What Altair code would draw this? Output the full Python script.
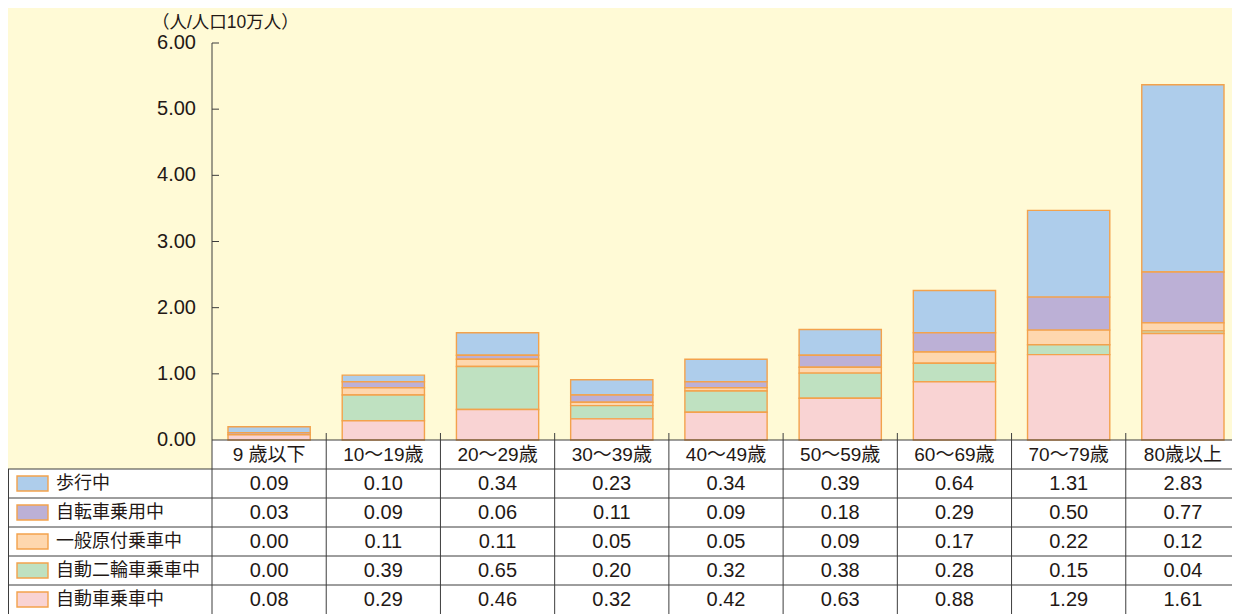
import altair as alt
import pandas as pd

# ---------------- data ----------------
categories = ["9 歳以下", "10～19歳", "20～29歳", "30～39歳", "40～49歳",
              "50～59歳", "60～69歳", "70～79歳", "80歳以上"]
series = ["歩行中", "自転車乗用中", "一般原付乗車中", "自動二輪車乗車中", "自動車乗車中"]
walking    = [0.09, 0.10, 0.34, 0.23, 0.34, 0.39, 0.64, 1.31, 2.83]
bicycle    = [0.03, 0.09, 0.06, 0.11, 0.09, 0.18, 0.29, 0.50, 0.77]
moped      = [0.00, 0.11, 0.11, 0.05, 0.05, 0.09, 0.17, 0.22, 0.12]
motorcycle = [0.00, 0.39, 0.65, 0.20, 0.32, 0.38, 0.28, 0.15, 0.04]
car        = [0.08, 0.29, 0.46, 0.32, 0.42, 0.63, 0.88, 1.29, 1.61]
y_ticks = [0, 1, 2, 3, 4, 5, 6]
y_title = "（人/人口10万人）"

values = [walking, bicycle, moped, motorcycle, car]
colors = ["#AECDEB", "#BCB0D6", "#FED7AE", "#BFE1C1", "#F9D3D3"]

# ---------------- layout constants ----------------
W, H = 1224, 606
PXY = 397 / 6            # pixels per value unit
ROW = 29 / PXY           # table row height (value units)
CAT = 1028 / 9           # pixels per category
X0 = -204 / CAT
X1 = X0 + W / CAT
Y0, Y1 = -6 * ROW, 432 / PXY
BAR_PAD = 0.14
FONT_NUM = "Liberation Sans, Arial, 'Noto Sans CJK JP'"
FONT_JP = "'Noto Sans CJK JP'"
INK = "#231815"
LINE = "#3d3d3d"
STROKE = "#F3A24C"

xs = alt.Scale(domain=[X0, X1], nice=False, zero=False)
ys = alt.Scale(domain=[Y0, Y1], nice=False, zero=False)

# ---------------- tables ----------------
bar_rows = []
for k, (s, vals) in enumerate(zip(series, values)):
    for i, v in enumerate(vals):
        bar_rows.append({"cat": i, "series": s, "value": v,
                         "ord": len(series) - 1 - k,
                         "xl": i + BAR_PAD, "xr": i + 1 - BAR_PAD})
bars_df = pd.DataFrame(bar_rows)

cells_df = pd.DataFrame([
    {"x": 0, "x2": X1, "y": 0, "y2": -ROW},
    {"x": X0, "x2": X1, "y": -ROW, "y2": -6 * ROW},
])

line_rows = [{"x": 0, "x2": X1, "y": 0, "y2": 0}]
for r in range(1, 6):
    line_rows.append({"x": X0, "x2": X1, "y": -r * ROW, "y2": -r * ROW})
line_rows.append({"x": X0 + 0.5 / CAT, "x2": X0 + 0.5 / CAT, "y": -ROW, "y2": -6 * ROW})
line_rows.append({"x": 0, "x2": 0, "y": 6, "y2": -6 * ROW})
for i in range(1, 9):
    line_rows.append({"x": i, "x2": i, "y": 7 / PXY, "y2": -6 * ROW})
for t in y_ticks[1:]:
    line_rows.append({"x": 0, "x2": 7 / CAT, "y": t, "y2": t})
lines_df = pd.DataFrame(line_rows)

ytick_df = pd.DataFrame({"v": y_ticks, "x": [0] * len(y_ticks)})
title_df = pd.DataFrame({"t": [y_title], "x": [0], "y": [6]})
header_df = pd.DataFrame({"label": categories,
                          "x": [i + 0.5 for i in range(len(categories))],
                          "y": [-0.5 * ROW] * len(categories)})
val_rows = []
for k, vals in enumerate(values):
    for i, v in enumerate(vals):
        val_rows.append({"v": v, "x": i + 0.5, "y": -(k + 1.5) * ROW})
vals_df = pd.DataFrame(val_rows)
leg_df = pd.DataFrame({
    "series": series,
    "sx": [X0 + 9 / CAT] * 5, "sx2": [X0 + 40 / CAT] * 5,
    "sy": [-(k + 1.5) * ROW + 7.5 / PXY for k in range(5)],
    "sy2": [-(k + 1.5) * ROW - 7.5 / PXY for k in range(5)],
    "tx": [X0 + 48 / CAT] * 5,
    "ty": [-(k + 1.5) * ROW for k in range(5)],
})

color_scale = alt.Scale(domain=series, range=colors)

# ---------------- layers ----------------
cells = alt.Chart(cells_df).mark_rect(fill="white", strokeWidth=0).encode(
    x=alt.X("x:Q", scale=xs, axis=None), x2="x2:Q",
    y=alt.Y("y:Q", scale=ys, axis=None), y2="y2:Q")

bars = alt.Chart(bars_df).transform_stack(
    stack="value", as_=["v0", "v1"], groupby=["cat"],
    sort=[alt.SortField("ord", order="ascending")]
).mark_rect(stroke=STROKE, strokeWidth=1.4).encode(
    x=alt.X("xl:Q", scale=xs, axis=None), x2="xr:Q",
    y=alt.Y("v0:Q", scale=ys, axis=None), y2="v1:Q",
    color=alt.Color("series:N", scale=color_scale, legend=None))

lines = alt.Chart(lines_df).mark_rule(color=LINE, strokeWidth=1).encode(
    x=alt.X("x:Q", scale=xs, axis=None), x2="x2:Q",
    y=alt.Y("y:Q", scale=ys, axis=None), y2="y2:Q")

ylabels = alt.Chart(ytick_df).mark_text(
    align="right", baseline="middle", dx=-16, font=FONT_NUM, fontSize=20, color=INK
).encode(x=alt.X("x:Q", scale=xs, axis=None),
         y=alt.Y("v:Q", scale=ys, axis=None),
         text=alt.Text("v:Q", format=".2f"))

ytitle = alt.Chart(title_df).mark_text(
    align="left", baseline="middle", dx=-60, dy=-20, font=FONT_NUM, fontSize=17.5, color=INK
).encode(x=alt.X("x:Q", scale=xs, axis=None),
         y=alt.Y("y:Q", scale=ys, axis=None), text="t:N")

header = alt.Chart(header_df).mark_text(
    align="center", baseline="middle", font=FONT_NUM, fontSize=19, color=INK
).encode(x=alt.X("x:Q", scale=xs, axis=None),
         y=alt.Y("y:Q", scale=ys, axis=None), text="label:N")

vtext = alt.Chart(vals_df).mark_text(
    align="center", baseline="middle", font=FONT_NUM, fontSize=20, color=INK
).encode(x=alt.X("x:Q", scale=xs, axis=None),
         y=alt.Y("y:Q", scale=ys, axis=None),
         text=alt.Text("v:Q", format=".2f"))

swatch = alt.Chart(leg_df).mark_rect(stroke=STROKE, strokeWidth=1.4).encode(
    x=alt.X("sx:Q", scale=xs, axis=None), x2="sx2:Q",
    y=alt.Y("sy:Q", scale=ys, axis=None), y2="sy2:Q",
    color=alt.Color("series:N", scale=color_scale, legend=None))

legtext = alt.Chart(leg_df).mark_text(
    align="left", baseline="middle", font=FONT_JP, fontSize=18, color=INK
).encode(x=alt.X("tx:Q", scale=xs, axis=None),
         y=alt.Y("ty:Q", scale=ys, axis=None), text="series:N")

chart = alt.layer(cells, bars, lines, ylabels, ytitle, header, vtext, swatch, legtext).properties(
    width=W, height=H, padding=0, autosize=alt.AutoSizeParams(type="none")
).configure(background="#FFFAD6").configure_view(stroke=None)

chart.save("out.html", embed_options={"renderer": "svg", "actions": False})
